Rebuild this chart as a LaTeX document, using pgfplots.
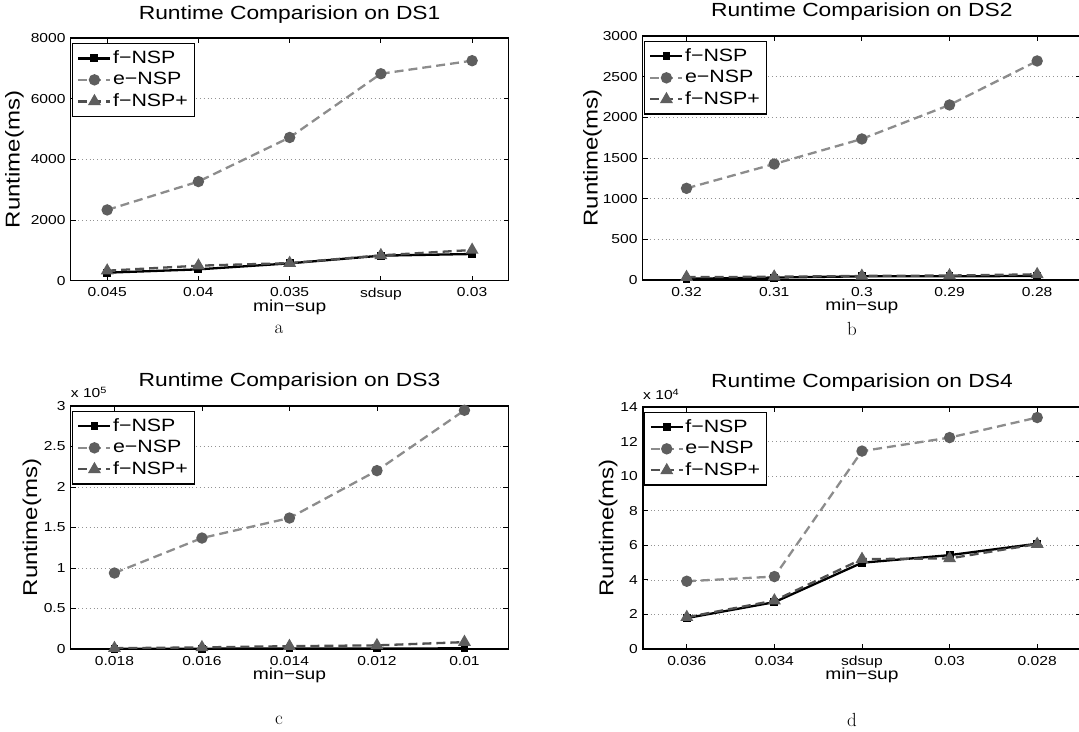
\documentclass[border=0pt]{standalone}
\usepackage{fontspec}
\setsansfont{Liberation Sans}[FakeStretch=1.2]
\usepackage{pgfplots}
\pgfplotsset{compat=1.18}
\definecolor{lgray}{HTML}{8C8C8C}
\definecolor{mgray}{HTML}{5E5E5E}
\definecolor{dgray}{HTML}{505050}
\newcommand\legfont{\fontsize{17.8}{19}\selectfont\sffamily}
\newcommand\LG[1]{\legfont #1}
\pgfplotsset{
 mystyle/.style={
  scale only axis,
  xmin=0.5, xmax=5.5, xtick={1,2,3,4,5}, ymin=0,
  tick align=inside, major tick length=5pt,
  axis line style={line width=1.2pt},
  every tick/.style={black, line width=0.8pt},
  ymajorgrids, major grid style={gray!85, line width=0.6pt, dash pattern=on 0.8pt off 3pt},
  /pgf/number format/assume math mode=true,
  /pgf/number format/1000 sep={},
  ticklabel style={font=\fontsize{13}{13}\selectfont\sffamily},
  xticklabel style={inner sep=0pt, yshift=-7pt},
  yticklabel style={inner sep=0pt, xshift=-5pt},
  title style={font=\fontsize{19}{20}\selectfont\sffamily, at={(0.5,1)}, anchor=base, yshift=13pt},
  xlabel style={font=\fontsize{16}{17}\selectfont\sffamily, at={(axis description cs:0.5,0)}, anchor=base, yshift=-31pt},
  ylabel style={font=\fontsize{20}{22}\selectfont\sffamily, anchor=south, inner sep=0pt},
  xlabel={min−sup}, ylabel={Runtime(ms)},
  legend style={at={(0,1)}, anchor=north west, xshift=1pt, yshift=-5pt, draw=black, line width=1.2pt,
     nodes={inner sep=1.5pt, text height=13pt, text depth=3.5pt}, inner sep=5pt, row sep=2pt, fill=white},
  legend cell align=left,
  legend image code/.code={\draw[mark repeat=2,mark phase=2,##1] plot coordinates {(0pt,0pt) (16pt,0pt) (32pt,0pt)};},
 },
 fnsp/.style={black, line width=2.3pt, mark=square*, mark size=2.8pt, mark options={solid, fill=black}},
 ensp/.style={lgray, line width=2.3pt, dash pattern=on 9pt off 5pt, mark=*, mark size=4.5pt, mark options={solid, draw=mgray, fill=mgray}},
 fnspp/.style={dgray, line width=2.3pt, dash pattern=on 9pt off 5pt, mark=triangle*, mark size=5.2pt, mark options={solid, draw=mgray, fill=mgray}},
}
\begin{document}
\begin{tikzpicture}
\useasboundingbox (0pt,0pt) rectangle (1079pt,731pt);
% ---------- a ----------
\begin{axis}[mystyle, at={(70.7pt,450.3pt)}, anchor=south west, width=437.9pt, height=242.7pt,
  xmin=0.6, xmax=5.4, ymax=8000, ytick={0,2000,4000,6000,8000},
  xticklabels={0.045,0.04,0.035,sdsup,0.03},
  title={Runtime Comparision on DS1},
  ylabel style={at={(axis description cs:-0.1066,0.5)}}]
\addplot[fnsp] coordinates {(1,264) (2,374) (3,572) (4,825) (5,880)};
\addplot[ensp] coordinates {(1,2333) (2,3268) (3,4721) (4,6822) (5,7252)};
\addplot[fnspp] coordinates {(1,330) (2,495) (3,580) (4,836) (5,1012)};
\legend{\LG{f−NSP},\LG{e−NSP},\LG{f−NSP+}}
\end{axis}
% ---------- b ----------
\begin{axis}[mystyle, at={(642.7pt,451pt)}, anchor=south west, width=438.3pt, height=244pt,
  ymax=3000, ytick={0,500,1000,1500,2000,2500,3000},
  xticklabels={0.32,0.31,0.3,0.29,0.28},
  title={Runtime Comparision on DS2},
  ylabel style={at={(axis description cs:-0.093,0.5)}}]
\addplot[fnsp] coordinates {(1,15) (2,30) (3,45) (4,45) (5,50)};
\addplot[ensp] coordinates {(1,1127) (2,1426) (3,1734) (4,2152) (5,2693)};
\addplot[fnspp] coordinates {(1,35) (2,40) (3,50) (4,55) (5,70)};
\legend{\LG{f−NSP},\LG{e−NSP},\LG{f−NSP+}}
\end{axis}
% ---------- c ----------
\begin{axis}[mystyle, name=axc, at={(70.7pt,82pt)}, anchor=south west, width=437.5pt, height=243pt,
  ymax=3, ytick={0,0.5,1,1.5,2,2.5,3},
  xticklabels={0.018,0.016,0.014,0.012,0.01},
  title={Runtime Comparision on DS3},
  ylabel style={at={(axis description cs:-0.067,0.5)}}]
\addplot[fnsp] coordinates {(1,0.002) (2,0.004) (3,0.006) (4,0.006) (5,0.008)};
\addplot[ensp] coordinates {(1,0.938) (2,1.370) (3,1.617) (4,2.202) (5,2.947)};
\addplot[fnspp] coordinates {(1,0.01) (2,0.02) (3,0.035) (4,0.045) (5,0.085)};
\legend{\LG{f−NSP},\LG{e−NSP},\LG{f−NSP+}}
\end{axis}
\node[anchor=base west, inner sep=0pt, font=\fontsize{13}{13}\selectfont\sffamily] at ([yshift=8pt]axc.north west) {x 10\textsuperscript{5}};
% ---------- d ----------
\begin{axis}[mystyle, name=axd, at={(643pt,82pt)}, anchor=south west, width=438pt, height=242pt,
  ymax=14, ytick={0,2,4,6,8,10,12,14},
  xticklabels={0.036,0.034,sdsup,0.03,0.028},
  title={Runtime Comparision on DS4},
  ylabel style={at={(axis description cs:-0.058,0.5)}}]
\addplot[fnsp] coordinates {(1,1.79) (2,2.71) (3,4.99) (4,5.43) (5,6.09)};
\addplot[ensp] coordinates {(1,3.92) (2,4.19) (3,11.45) (4,12.23) (5,13.39)};
\addplot[fnspp] coordinates {(1,1.84) (2,2.80) (3,5.20) (4,5.24) (5,6.07)};
\legend{\LG{f−NSP},\LG{e−NSP},\LG{f−NSP+}}
\end{axis}
\node[anchor=base west, inner sep=0pt, font=\fontsize{13}{13}\selectfont\sffamily] at ([yshift=7pt]axd.north west) {x 10\textsuperscript{4}};
% captions
\node[font=\fontsize{19}{19}\selectfont] at (279pt,402pt) {a};
\node[font=\fontsize{19}{19}\selectfont] at (852pt,402pt) {b};
\node[font=\fontsize{19}{19}\selectfont] at (279pt,11pt) {c};
\node[font=\fontsize{19}{19}\selectfont] at (852pt,11pt) {d};
\end{tikzpicture}
\end{document}
